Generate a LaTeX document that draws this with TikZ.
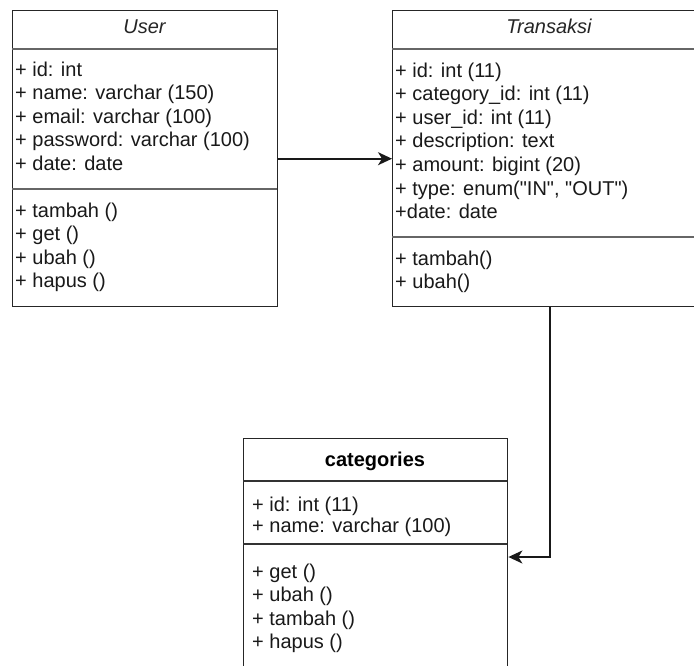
\documentclass[tikz,border=0pt]{standalone}
\usepackage{fontspec}
\setmainfont{Liberation Sans}
\usetikzlibrary{arrows.meta}
\begin{document}
\begin{tikzpicture}[x=1pt,y=-1pt,
  box/.style={draw=black!85,line width=1.4pt,inner sep=0pt,anchor=north west},
  sep/.style={draw=black!60,line width=1.2pt},
  txt/.style={anchor=base west,inner sep=0pt,font=\fontsize{20}{24}\selectfont,text=black!90},
  ttl/.style={anchor=base,inner sep=0pt,font=\fontsize{20}{24}\selectfont\itshape,text=black!85},
  bttl/.style={anchor=base,inner sep=0pt,font=\fontsize{20}{24}\selectfont\bfseries,text=black},
  conn/.style={draw=black!90,line width=1.6pt,-{Stealth[length=14pt,width=13pt,inset=4pt]}}]
\useasboundingbox (0,0) rectangle (694,665);
\clip (0,0) rectangle (694,665);
\fill[white] (0,0) rectangle (694,665);
% boxes
\node[box,minimum width=265pt,minimum height=296pt] (user) at (12,10) {};
\node[box,minimum width=314pt,minimum height=296pt] (trans) at (392,10) {};
\node[box,minimum width=264pt,minimum height=260pt] (cat) at (243,438) {};
% separators
\draw[sep] (12,49) -- (277,49);
\draw[sep] (12,189) -- (277,189);
\draw[sep] (392,49) -- (706,49);
\draw[sep] (392,237) -- (706,237);
\draw[sep,draw=black!80] (243,481) -- (507,481);
\draw[sep,draw=black!80] (243,544) -- (507,544);
% titles
\node[ttl] (userT) at (144.5,33.5) {User};
\node[ttl] (transT) at (549,33.5) {Transaksi};
\node[bttl] (catT) at (375,466.5) {categories};
% User attributes
\foreach \t [count=\i] in {{+ id: int},{+ name: varchar (150)},{+ email: varchar (100)},{+ password: varchar (100)},{+ date: date}}
  \node[txt] (ua\i) at (15,{76+23.6*(\i-1)}) {\t};
\foreach \t [count=\i] in {{+ tambah ()},{+ get ()},{+ ubah ()},{+ hapus ()}}
  \node[txt] (um\i) at (15,{217+23.6*(\i-1)}) {\t};
% Transaksi attributes
\foreach \t [count=\i] in {{+ id: int (11)},{+ category\_id: int (11)},{+ user\_id: int (11)},{+ description: text},{+ amount: bigint (20)},{+ type: enum(\textquotedbl IN\textquotedbl, \textquotedbl OUT\textquotedbl)},{+date: date}}
  \node[txt] (ta\i) at (395,{77+23.6*(\i-1)}) {\t};
\foreach \t [count=\i] in {{+ tambah()},{+ ubah()}}
  \node[txt] (tm\i) at (395,{265+23.6*(\i-1)}) {\t};
% categories
\foreach \t [count=\i] in {{+ id: int (11)},{+ name: varchar (100)}}
  \node[txt] (ca\i) at (252,{511+21*(\i-1)}) {\t};
\foreach \t [count=\i] in {{+ get ()},{+ ubah ()},{+ tambah ()},{+ hapus ()}}
  \node[txt] (cm\i) at (252,{578+23.5*(\i-1)}) {\t};
% connectors
\draw[conn] (user.east) -- (trans.west);
\coordinate (catin) at ([yshift=-119pt]cat.north east);
\draw[conn] (trans.south) |- (catin);
\end{tikzpicture}
\end{document}
